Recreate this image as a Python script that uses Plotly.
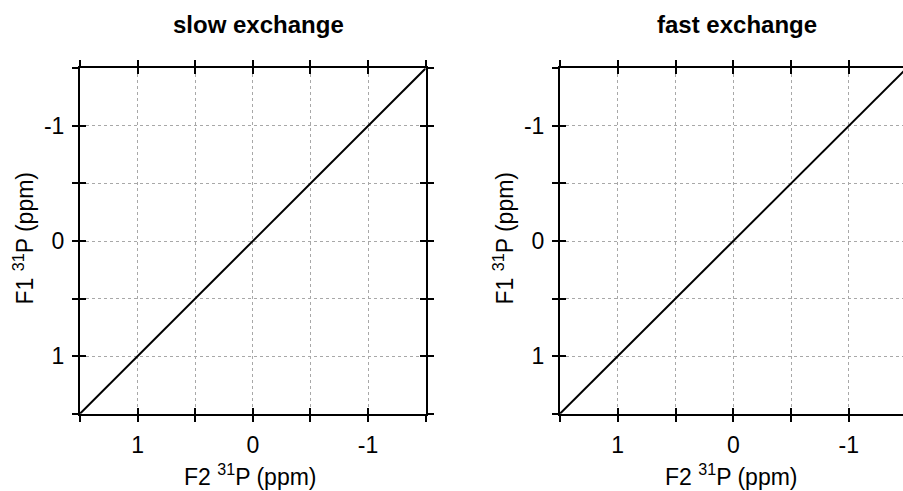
import plotly.graph_objects as go

# ---- data ----
diag_x = [1.5, -1.5]
diag_y = [1.5, -1.5]
label_vals = [1.0, 0.0, -1.0]
label_text = ["1", "0", "-1"]
minor_step = 0.5
panel_titles = ["slow exchange", "fast exchange"]
x_title = "F2 <sup>31</sup>P (ppm)"
y_title = "F1 <sup>31</sup>P (ppm)"

W, H = 903, 491
FONT = "Liberation Sans, Arial, Helvetica, sans-serif"
FS = 23

left_dom = [80 / W, 425.7 / W]
right_dom = [560 / W, 1.0]
y_dom = [1 - 413.7 / H, 1 - 68.3 / H]
left_xrange = [1.5, -1.5]
right_xrange = [1.5, -1.469]
yrange = [1.5, -1.5]

fig = go.Figure()
for xa, ya in [("x", "y"), ("x2", "y2"), ("x3", "y3"), ("x4", "y4")]:
    main = xa in ("x", "x2")
    fig.add_trace(go.Scatter(
        x=diag_x, y=diag_y, xaxis=xa, yaxis=ya, mode="lines",
        line=dict(color="black", width=2), opacity=1 if main else 0,
        hoverinfo="skip", showlegend=False))

GRID = dict(gridcolor="#a8a8a8", gridwidth=1, griddash="3px,3px")

def main_axis(domain, rng, anchor, mirror, standoff):
    return dict(domain=domain, range=rng, anchor=anchor,
                tickmode="array", tickvals=label_vals, ticktext=label_text,
                ticks="outside", ticklen=6, tickwidth=2, tickcolor="black",
                ticklabelstandoff=standoff,
                minor=dict(tick0=0, dtick=minor_step, ticks="outside", ticklen=6,
                           tickwidth=2, tickcolor="black", showgrid=True, **GRID),
                showline=True, linewidth=2, linecolor="black", mirror=mirror,
                showgrid=True, zeroline=False, **GRID,
                tickfont=dict(size=FS, color="black", family=FONT))

def overlay_axis(domain, rng, anchor, over, mirror):
    return dict(domain=domain, range=rng, anchor=anchor, overlaying=over,
                tickmode="array", tickvals=label_vals,
                ticks="inside", ticklen=6, tickwidth=2, tickcolor="black",
                minor=dict(tick0=0, dtick=minor_step, ticks="inside", ticklen=6,
                           tickwidth=2, tickcolor="black", showgrid=False),
                showline=False, mirror=mirror, showticklabels=False,
                showgrid=False, zeroline=False)

fig.update_layout(
    width=W, height=H, margin=dict(l=0, r=0, t=0, b=0),
    paper_bgcolor="white", plot_bgcolor="white",
    font=dict(family=FONT, size=FS, color="black"),
    xaxis=main_axis(left_dom, left_xrange, "y", "allticks", 4),
    yaxis=main_axis(y_dom, yrange, "x", "allticks", 3),
    xaxis2=main_axis(right_dom, right_xrange, "y2", "allticks", 4),
    yaxis2=main_axis(y_dom, yrange, "x2", False, 3),
    xaxis3=overlay_axis(left_dom, left_xrange, "y3", "x", "allticks"),
    yaxis3=overlay_axis(y_dom, yrange, "x3", "y", "allticks"),
    xaxis4=overlay_axis(right_dom, right_xrange, "y4", "x2", "allticks"),
    yaxis4=overlay_axis(y_dom, yrange, "x4", "y2", False),
)

ann = []
for cx, t in zip([258, 737], panel_titles):
    ann.append(dict(text="<b>%s</b>" % t, x=cx / W, y=1 - 24 / H, xref="paper", yref="paper",
                    xanchor="center", yanchor="middle", showarrow=False,
                    font=dict(size=24, family=FONT, color="black")))
for cx in [250.5, 731]:
    ann.append(dict(text=x_title, x=cx / W, y=1 - 475 / H, xref="paper", yref="paper",
                    xanchor="center", yanchor="middle", showarrow=False,
                    font=dict(size=FS, family=FONT, color="black")))
for cx in [23, 503]:
    ann.append(dict(text=y_title, x=cx / W, y=1 - 238.5 / H, xref="paper", yref="paper",
                    xanchor="center", yanchor="middle", textangle=-90, showarrow=False,
                    font=dict(size=FS, family=FONT, color="black")))
fig.update_layout(annotations=ann)

fig.write_html("out.html", config={"displayModeBar": False},
               post_script="document.body.style.margin='0';document.body.style.overflow='hidden';")
